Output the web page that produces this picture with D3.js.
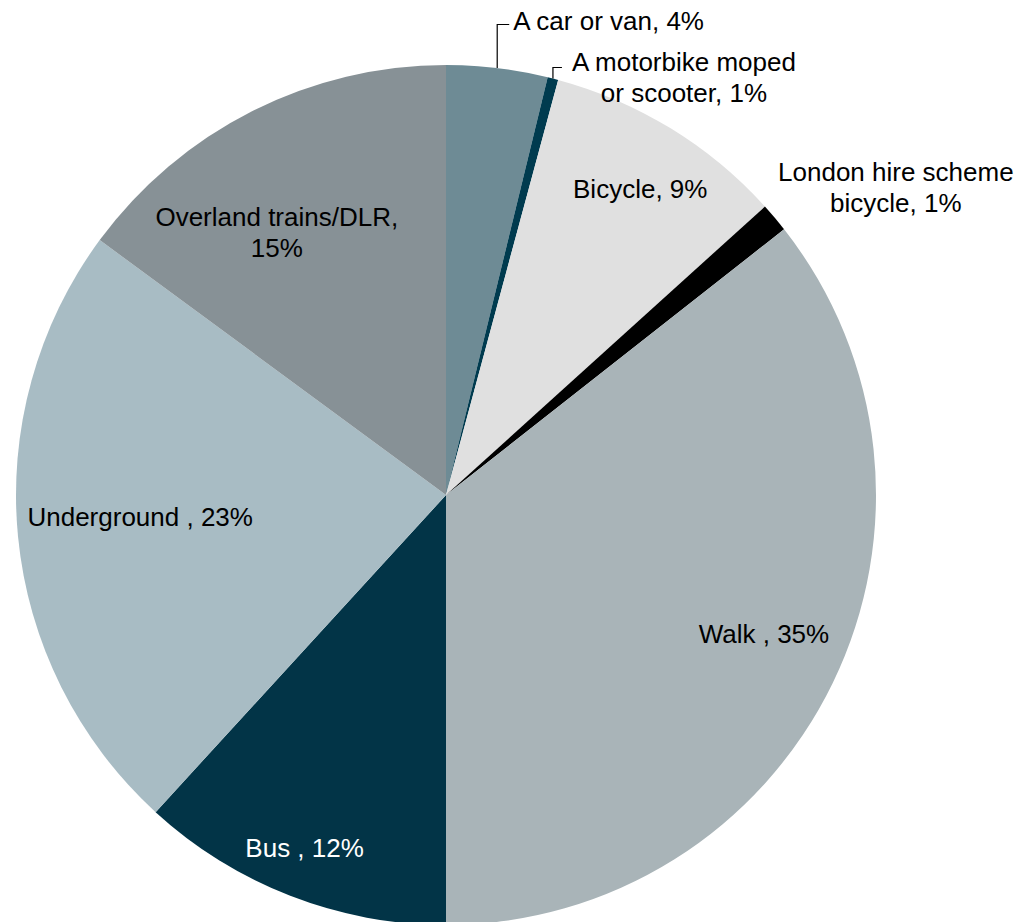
<!DOCTYPE html>
<html>
<head>
<meta charset="utf-8">
<script src="https://cdn.jsdelivr.net/npm/d3@7"></script>
<style>
  html, body { margin: 0; padding: 0; background: #fff; }
  text { font-family: "Liberation Sans", Arial, sans-serif; font-size: 26px; }
</style>
</head>
<body>
<figure id="pie" style="margin:0"></figure>
<script>
// values (share of trips, %)
const categories = ["A car or van", "A motorbike moped or scooter", "Bicycle", "London hire scheme bicycle",
  "Walk", "Bus", "Underground", "Overland trains/DLR"];
const values = [3.8, 0.4, 9.1, 1.1, 35.6, 11.8, 23.3, 14.9];
const labelLines = [
  ["A car or van, 4%"],
  ["A motorbike moped", "or scooter, 1%"],
  ["Bicycle, 9%"],
  ["London hire scheme", "bicycle, 1%"],
  ["Walk , 35%"],
  ["Bus , 12%"],
  ["Underground , 23%"],
  ["Overland trains/DLR,", "15%"]
];

const colors = ["#6e8b95", "#003b4f", "#e0e0e0", "#000000", "#a9b4b8", "#023447", "#a8bcc4", "#879196"];
const textColors = ["#000", "#000", "#000", "#000", "#000", "#fff", "#000", "#000"];

// label placement: polar (angle nudge in degrees, radius factor), or leader line
const labelPos = [
  { leader: true, lineY: 24.5, run: 12, anchor: "start", tx: 4, baseline: 5.5 },
  { leader: true, lineY: 67.5, run: 9, anchor: "middle", tx: 122, baseline: 3 },
  { dA: 0.9, f: 0.843 },
  { dA: 5.8, f: 1.267 },
  { dA: -2.3, f: 0.807 },
  { dA: 0.6, f: 0.884 },
  { dA: 1.5, f: 0.713 },
  { dA: -6, f: 0.726 }
];

const width = 1023, height = 922;
const cx = 446, cy = 495, radius = 430;
const lineH = 31;

const svg = d3.select("figure#pie")
  .append("svg")
  .attr("width", width)
  .attr("height", height);

const g = svg.append("g")
  .attr("transform", "translate(" + cx + "," + cy + ")");

const pie = d3.pie().sort(null).value(d => d);
const arcs = pie(values);

const arc = d3.arc().innerRadius(0).outerRadius(radius);
const edge = d3.arc().innerRadius(radius).outerRadius(radius);

// slices
g.selectAll("path.slice")
  .data(arcs)
  .enter()
  .append("path")
  .attr("class", "slice")
  .attr("d", arc)
  .attr("fill", (d, i) => colors[i]);

// labels
arcs.forEach((d, i) => {
  const p = labelPos[i];
  const lines = labelLines[i];
  if (p.leader) {
    const [ex, ey] = edge.centroid(d);
    const ly = p.lineY - cy;
    g.append("polyline")
      .attr("points", [[ex, ey], [ex, ly], [ex + p.run, ly]].map(q => q.join(",")).join(" "))
      .attr("fill", "none")
      .attr("stroke", "#000")
      .attr("stroke-width", 1.2);
    const t = g.append("text")
      .attr("text-anchor", p.anchor)
      .attr("fill", textColors[i]);
    lines.forEach((s, k) => {
      t.append("tspan")
        .attr("x", ex + p.run + p.tx)
        .attr("y", ly + p.baseline + k * lineH)
        .text(s);
    });
  } else {
    const a = (d.startAngle + d.endAngle) / 2 + p.dA * Math.PI / 180;
    const x = Math.sin(a) * radius * p.f;
    const y = -Math.cos(a) * radius * p.f;
    const y0 = y - (lines.length - 1) * lineH / 2 + 9;
    const t = g.append("text")
      .attr("text-anchor", "middle")
      .attr("fill", textColors[i]);
    lines.forEach((s, k) => {
      t.append("tspan")
        .attr("x", x)
        .attr("y", y0 + k * lineH)
        .text(s);
    });
  }
});
</script>
</body>
</html>
